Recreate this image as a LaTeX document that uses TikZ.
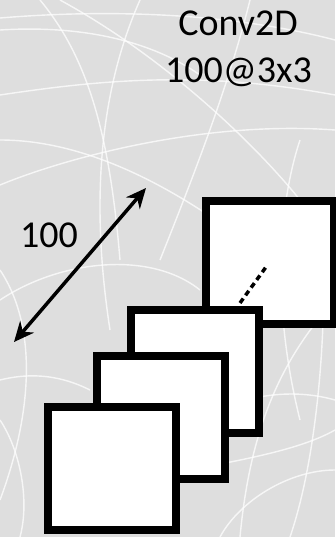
\documentclass[tikz,border=0pt]{standalone}
\usepackage{fontspec}
\setmainfont{Carlito}
\usetikzlibrary{arrows.meta}
\definecolor{bgpaper}{RGB}{222,222,222}
\tikzset{
  sqbox/.style={draw=black, fill=white, line width=8bp, minimum width=128bp, minimum height=123bp, inner sep=0pt, outer sep=0pt},
  lbl/.style={font=\fontsize{38bp}{47bp}\selectfont, inner sep=0pt, anchor=base},
  scratch/.style={draw=white, line width=1.4bp, opacity=0.75}
}
\begin{document}
\begin{tikzpicture}[x=1bp,y=-1bp]
\useasboundingbox (0,0) rectangle (335,537);
\fill[bgpaper] (0,0) rectangle (335,537);
% background scratches
\begin{scope}
\clip (0,0) rectangle (335,537);
\draw[scratch] (0,18) .. controls (120,8) and (240,15) .. (335,40);
\draw[scratch] (0,30) .. controls (80,25) and (150,40) .. (200,75);
\draw[scratch] (40,0) .. controls (90,60) and (110,140) .. (120,260);
\draw[scratch] (140,0) .. controls (100,90) and (90,200) .. (110,330);
\draw[scratch] (0,95) .. controls (100,80) and (200,70) .. (335,95);
\draw[scratch] (0,185) .. controls (60,160) and (200,120) .. (335,130);
\draw[scratch] (0,140) .. controls (80,140) and (160,180) .. (230,230);
\draw[scratch] (250,0) .. controls (230,80) and (200,160) .. (160,260);
\draw[scratch] (300,140) .. controls (280,200) and (270,300) .. (300,420);
\draw[scratch] (0,300) .. controls (60,260) and (150,250) .. (200,290);
\draw[scratch] (0,270) .. controls (40,330) and (30,420) .. (0,500);
\draw[scratch] (335,300) .. controls (280,360) and (250,430) .. (240,537);
\draw[scratch] (200,420) .. controls (250,390) and (300,390) .. (335,400);
\draw[scratch] (190,470) .. controls (240,460) and (300,450) .. (335,430);
\draw[scratch] (0,420) .. controls (20,450) and (30,500) .. (20,537);
\draw[scratch] (220,537) .. controls (240,500) and (290,470) .. (335,470);
\draw[scratch] (320,200) .. controls (330,300) and (320,450) .. (290,537);
\draw[scratch] (60,0) .. controls (170,60) and (260,150) .. (300,200);
\draw[scratch] (0,380) .. controls (40,370) and (70,380) .. (90,390);
\end{scope}
% text
\node[lbl] (title) at (238,36) {Conv2D};
\node[lbl] (filters) at (238.5,83) {100@3x3};
\node[lbl] (depth) at (49,247) {100};
% double arrow
\coordinate (ae) at (14,342);
\coordinate (as) at (146,188);
\draw[line width=3.5bp, {Stealth[length=20bp,width=18bp]}-{Stealth[length=20bp,width=18bp]}] (ae) -- (as);
% squares back to front
\node[sqbox] (s1) at (269.5,262.5) {};
\coordinate (d1) at (240,303);
\coordinate (d2) at (266,267);
\draw[line width=3.5bp, dash pattern=on 5.5bp off 4bp] (d1) -- (d2);
\node[sqbox] (s2) at (194.5,371) {};
\node[sqbox] (s3) at (160.5,417.5) {};
\node[sqbox] (s4) at (111.5,468) {};
\end{tikzpicture}
\end{document}
